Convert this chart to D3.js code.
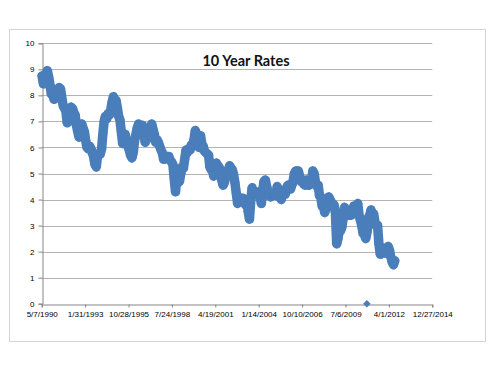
<!DOCTYPE html>
<html>
<head>
<meta charset="utf-8">
<script src="https://cdn.jsdelivr.net/npm/d3@7"></script>
<style>
  html, body { margin: 0; padding: 0; background: #fff; }
  svg { display: block; }
</style>
</head>
<body>
<svg id="chart" width="489" height="367"></svg>
<script>
// ---- Data (monthly readings of the 10-year rate, May 1990 .. Aug 2012) ----
const title = "10 Year Rates";
const firstMonth = "1990-05";
const rates = [
  // 1990 (May-Dec)
  8.75, 8.45, 8.45, 8.80, 8.95, 8.70, 8.40, 8.05,
  // 1991
  8.10, 7.85, 8.10, 8.05, 8.05, 8.30, 8.25, 7.90, 7.60, 7.50, 7.40, 6.95,
  // 1992
  7.00, 7.30, 7.55, 7.50, 7.35, 7.25, 6.85, 6.60, 6.40, 6.60, 6.90, 6.75,
  // 1993
  6.60, 6.25, 6.00, 5.95, 6.05, 5.95, 5.80, 5.65, 5.35, 5.25, 5.70, 5.75,
  // 1994
  5.75, 5.95, 6.50, 7.00, 7.20, 7.10, 7.30, 7.25, 7.45, 7.75, 7.95, 7.80,
  // 1995
  7.80, 7.50, 7.20, 7.05, 6.60, 6.15, 6.30, 6.50, 6.20, 6.05, 5.90, 5.70,
  // 1996
  5.60, 5.80, 6.25, 6.50, 6.75, 6.90, 6.85, 6.65, 6.85, 6.55, 6.20, 6.30,
  // 1997
  6.60, 6.40, 6.75, 6.90, 6.70, 6.50, 6.20, 6.30, 6.20, 6.05, 5.90, 5.80,
  // 1998
  5.55, 5.55, 5.65, 5.65, 5.65, 5.50, 5.45, 5.35, 4.80, 4.30, 4.85, 4.65,
  // 1999
  4.70, 5.00, 5.25, 5.20, 5.55, 5.90, 5.80, 5.95, 5.90, 6.10, 6.05, 6.30,
  // 2000
  6.65, 6.50, 6.25, 6.00, 6.45, 6.10, 6.05, 5.85, 5.80, 5.75, 5.70, 5.25,
  // 2001
  5.15, 5.10, 4.90, 5.15, 5.40, 5.30, 5.25, 4.95, 4.75, 4.55, 4.65, 5.10,
  // 2002
  5.05, 4.90, 5.30, 5.20, 5.15, 4.95, 4.65, 4.25, 3.85, 3.95, 4.05, 4.05,
  // 2003
  4.05, 3.90, 3.80, 3.95, 3.55, 3.25, 3.95, 4.45, 4.25, 4.30, 4.30, 4.25,
  // 2004
  4.15, 4.10, 3.85, 4.35, 4.70, 4.75, 4.50, 4.30, 4.15, 4.10, 4.20, 4.25,
  // 2005
  4.20, 4.15, 4.50, 4.35, 4.15, 4.00, 4.20, 4.25, 4.20, 4.45, 4.55, 4.45,
  // 2006
  4.40, 4.55, 4.70, 5.00, 5.10, 5.10, 5.10, 4.90, 4.70, 4.75, 4.60, 4.55,
  // 2007
  4.75, 4.70, 4.55, 4.70, 4.75, 5.10, 5.00, 4.65, 4.50, 4.55, 4.15, 4.10,
  // 2008
  3.75, 3.75, 3.50, 3.70, 3.90, 4.10, 4.00, 3.90, 3.70, 3.80, 3.50, 2.30,
  // 2009
  2.50, 2.85, 2.80, 2.95, 3.30, 3.70, 3.55, 3.60, 3.40, 3.40, 3.40, 3.60,
  // 2010
  3.75, 3.70, 3.75, 3.85, 3.40, 3.20, 3.00, 2.70, 2.65, 2.50, 2.75, 3.30,
  // 2011
  3.40, 3.60, 3.40, 3.45, 3.15, 3.00, 3.00, 2.30, 1.90, 2.15, 2.00, 1.95,
  // 2012 (Jan-Aug)
  1.95, 1.95, 2.20, 2.05, 1.80, 1.60, 1.50, 1.65
];
// stray point recorded as zero
const strayDates = ["11/11/2010"];
const strayValues = [0];

const xTickLabels = ["5/7/1990", "1/31/1993", "10/28/1995", "7/24/1998", "4/19/2001",
                     "1/14/2004", "10/10/2006", "7/6/2009", "4/1/2012", "12/27/2014"];
const yTicks = [0, 1, 2, 3, 4, 5, 6, 7, 8, 9, 10];

// ---- Build ----
const parseMDY = d3.utcParse("%m/%d/%Y");
const parseYM = d3.utcParse("%Y-%m");
const start = parseYM(firstMonth);
const monthStarts = d3.utcMonth.range(start, d3.utcMonth.offset(start, rates.length));
const series = rates.map((v, i) => ({ date: d3.utcDay.offset(monthStarts[i], 14), value: v }));
const stray = strayDates.map((d, i) => ({ date: parseMDY(d), value: strayValues[i] }));
const tickDates = xTickLabels.map(parseMDY);

const svg = d3.select("#chart");
const plot = { left: 41.7, right: 432.3, top: 43.3, bottom: 303.7 };
const blue = "#4A7EBB";
const fontFam = "'Liberation Sans', Arial, sans-serif";

// chart frame
svg.append("rect").attr("x", 9.5).attr("y", 29.5).attr("width", 476).attr("height", 312)
  .attr("fill", "#fff").attr("stroke", "#d4d4d4").attr("stroke-width", 1);

const x = d3.scaleUtc().domain([tickDates[0], tickDates[tickDates.length - 1]])
  .range([plot.left, plot.right]);
const y = d3.scaleLinear().domain([0, 10]).range([plot.bottom, plot.top]);

// gridlines
svg.append("g").selectAll("line").data(yTicks.filter(d => d > 0)).join("line")
  .attr("x1", plot.left).attr("x2", plot.right)
  .attr("y1", d => Math.round(y(d)) + 0.5).attr("y2", d => Math.round(y(d)) + 0.5)
  .attr("stroke", "#b4b4b4").attr("stroke-width", 1);

// y axis
const yAxis = d3.axisLeft(y).tickValues(yTicks).tickSize(4).tickPadding(4).tickFormat(d3.format("d"));
const gy = svg.append("g").attr("transform", `translate(${Math.round(plot.left) + 0.5},0)`).call(yAxis);
gy.select(".domain").attr("stroke", "#868686");
gy.selectAll(".tick line").attr("stroke", "#868686");
gy.selectAll(".tick text").attr("font-family", fontFam).attr("font-size", 8).attr("fill", "#000");

// x axis
const xAxis = d3.axisBottom(x).tickValues(tickDates).tickSize(3).tickPadding(4)
  .tickFormat(d3.utcFormat("%-m/%-d/%Y"));
const gx = svg.append("g").attr("transform", `translate(0,${Math.round(plot.bottom) + 0.5})`).call(xAxis);
gx.select(".domain").attr("stroke", "#868686");
gx.selectAll(".tick line").attr("stroke", "#868686");
gx.selectAll(".tick text").attr("font-family", fontFam).attr("font-size", 8).attr("fill", "#000");

// band through the readings
const line = d3.line().x(d => x(d.date)).y(d => y(d.value)).curve(d3.curveLinear);
svg.append("path").datum(series).attr("d", line)
  .attr("fill", "none").attr("stroke", blue).attr("stroke-width", 9.5)
  .attr("stroke-linejoin", "round").attr("stroke-linecap", "round");

// diamond markers
const sym = d3.symbol().type(d3.symbolDiamond2).size(36);
svg.append("g").selectAll("path").data(series).join("path")
  .attr("d", d3.symbol().type(d3.symbolDiamond2).size(60))
  .attr("transform", d => `translate(${x(d.date)},${y(d.value)})`)
  .attr("fill", blue);
svg.append("g").selectAll("path").data(stray).join("path")
  .attr("d", sym)
  .attr("transform", d => `translate(${x(d.date)},${y(d.value)})`)
  .attr("fill", blue);

// title
svg.append("text").attr("x", 246).attr("y", 65.5).attr("text-anchor", "middle")
  .attr("font-family", "Lato, 'Liberation Sans', sans-serif").attr("font-weight", "bold")
  .attr("font-size", 14.5).attr("fill", "#111").text(title);
</script>
</body>
</html>
